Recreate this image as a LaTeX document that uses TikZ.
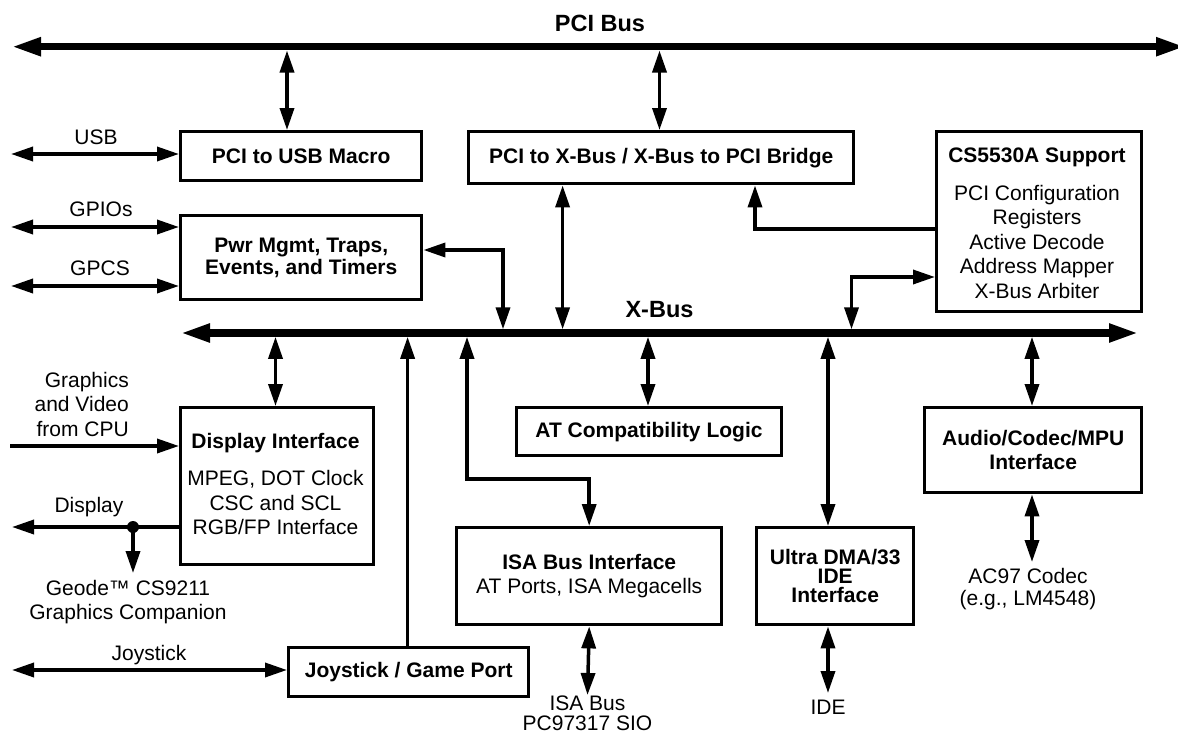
\documentclass[tikz,border=0pt]{standalone}
\usepackage{fontspec}
\setmainfont{Liberation Sans}
\usetikzlibrary{arrows.meta,calc}
\begin{document}
\begin{tikzpicture}[x=1pt,y=-1pt,
  t/.style={font=\fontsize{21}{24.5}\selectfont,inner sep=0pt,align=center},
  tb/.style={font=\fontsize{21}{24.5}\selectfont\bfseries,inner sep=0pt,align=center},
  busl/.style={font=\fontsize{23.5}{26}\selectfont\bfseries,inner sep=0pt},
  box/.style={draw,line width=3.4pt,anchor=north west,inner sep=0pt,align=center,
    font=\fontsize{21}{24.5}\selectfont\bfseries},
  con/.style={line width=3.5pt},
  >={Triangle[length=22pt,width=14pt]},
  bus/.style={line width=7.5pt,{Triangle[length=30pt,width=17pt]}-{Triangle[length=30pt,width=17pt]}}]
\useasboundingbox (0,0) rectangle (1178,736);

% buses
\coordinate (pciL) at (11,46.7);
\coordinate (pciR) at (1186,46.7);
\draw[bus] (pciL) -- (pciR);
\coordinate (xbL) at (180,333);
\coordinate (xbR) at (1139,333);
\draw[bus] (xbL) -- (xbR);
\node[busl] (pcilbl) at (600,23) {PCI Bus};
\node[busl] (xblbl) at (659.5,310) {X-Bus};

% boxes
\node[box,minimum width=241pt,minimum height=49pt] (usb) at (179,130) {PCI to USB Macro};
\node[box,minimum width=385pt,minimum height=52pt] (bridge) at (467,130) {PCI to X-Bus / X-Bus to PCI Bridge};
\node[box,minimum width=205pt,minimum height=180pt] (cs) at (935,130) {};
\node[tb] (cst) at (1037,157) {CS5530A Support};
\node[t] (csl) at (1037,241.5) {PCI Configuration\\Registers\\Active Decode\\Address Mapper\\X-Bus Arbiter};
\node[box,minimum width=241pt,minimum height=84pt,font=\fontsize{21}{22.5}\selectfont\bfseries] (pwr) at (179,214) {Pwr Mgmt, Traps,\\Events, and Timers};
\node[box,minimum width=193pt,minimum height=157pt] (disp) at (179,406) {};
\node[tb] (dispt) at (275.5,443) {Display Interface};
\node[t] (displ) at (275.5,502.5) {MPEG, DOT Clock\\CSC and SCL\\RGB/FP Interface};
\node[box,minimum width=264.5pt,minimum height=48pt] (at) at (515,406) {AT Compatibility Logic};
\node[box,minimum width=265pt,minimum height=97pt] (isa) at (455,526) {ISA Bus Interface\\\mdseries AT Ports, ISA Megacells};
\node[box,minimum width=157pt,minimum height=97pt,font=\fontsize{21}{19}\selectfont\bfseries] (ide) at (755,526) {Ultra DMA/33\\IDE\\Interface};
\node[box,minimum width=217pt,minimum height=85pt] (aud) at (923,406) {Audio/Codec/MPU\\Interface};
\node[box,minimum width=240pt,minimum height=49pt] (joy) at (287,646) {Joystick / Game Port};

% outside labels
\node[t] (usbl) at (96,137) {USB};
\node[t] (gpiol) at (101,209) {GPIOs};
\node[t] (gpcsl) at (100,268) {GPCS};
\node[t,anchor=east,align=right] (gfxl) at (129,404) {Graphics\\and Video\\from CPU};
\node[t] (displbl) at (89,507) {Display};
\node[t] (geol) at (128,602) {Geode™ CS9211\\Graphics Companion};
\node[t] (joyl) at (149,655) {Joystick};
\node[t,font=\fontsize{21}{20}\selectfont] (isal) at (587.5,713) {ISA Bus\\PC97317 SIO};
\node[t] (idel) at (828,707) {IDE};
\node[t,font=\fontsize{21}{22}\selectfont] (acl) at (1028,589) {AC97 Codec\\(e.g., LM4548)};

% connectors to PCI bus
\coordinate (pu) at (287,50.5);
\draw[con,<->] (pu) -- (pu |- usb.north);
\coordinate (pb) at (659.5,50.5);
\draw[con,<->] (pb) -- (pb |- bridge.north);

% left side
\coordinate (usbL) at (11,154);
\draw[con,<->] (usbL) -- (usbL -| usb.west);
\coordinate (gpioL) at (11,227);
\draw[con,<->] (gpioL) -- (gpioL -| pwr.west);
\coordinate (gpcsL) at (11,286);
\draw[con,<->] (gpcsL) -- (gpcsL -| pwr.west);

% to X-Bus from above
\coordinate (pwrC) at (503,250);
\coordinate (pwrB) at (503,329.3);
\draw[con,<->] (pwrC -| pwr.east) -- (pwrC) -- (pwrB);
\coordinate (bx) at (562.6,329.3);
\draw[con,<->] (bx |- bridge.south) -- (bx);
\coordinate (cb) at (755,229);
\draw[con,->] (cb -| cs.west) -- (cb) -- (cb |- bridge.south);
\coordinate (cx) at (851.5,277);
\coordinate (cxB) at (851.5,329.3);
\draw[con,<->] (cx -| cs.west) -- (cx) -- (cxB);

% from X-Bus downward
\coordinate (dx) at (275.5,336.8);
\draw[con,<->] (dx) -- (dx |- disp.north);
\coordinate (jx) at (407.6,336.8);
\draw[con,->] (jx |- joy.north) -- (jx);
\coordinate (ix) at (467,336.8);
\coordinate (ic) at (467,479);
\draw[con,<->] (ix) -- (ic) -- (ic -| isa.north) -- (isa.north);
\coordinate (ax) at (648,336.8);
\draw[con,<->] (ax) -- (ax |- at.north);
\coordinate (ex) at (828,336.8);
\draw[con,<->] (ex) -- (ex |- ide.north);
\coordinate (aux) at (1032,336.8);
\draw[con,<->] (aux) -- (aux |- aud.north);

% display side
\coordinate (gL) at (10,446);
\draw[con,->] (gL) -- (gL -| disp.west);
\coordinate (dL) at (12,527);
\coordinate (dot) at (133,527);
\draw[con,->] (dL -| disp.west) -- (dL);
\fill (dot) circle (6);
\coordinate (geo) at (133,573);
\draw[con,->] (dot) -- (geo);
\coordinate (jL) at (12,670);
\draw[con,<->] (jL) -- (jL -| joy.west);

% bottom
\coordinate (ib) at (587.5,695);
\draw[con,<->] (isa.south) -- (ib);
\coordinate (eb) at (828,693);
\draw[con,<->] (eb |- ide.south) -- (eb);
\coordinate (ab) at (1032,562);
\draw[con,<->] (ab |- aud.south) -- (ab);
\end{tikzpicture}
\end{document}
